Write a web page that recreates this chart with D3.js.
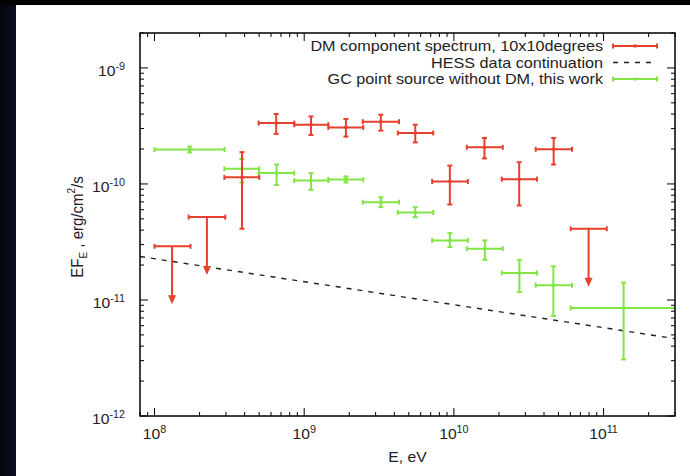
<!DOCTYPE html>
<html><head><meta charset="utf-8">
<script src="https://cdn.jsdelivr.net/npm/d3@7"></script>
<style>
html,body{margin:0;padding:0;background:#000;}
svg{display:block;}
text{font-family:"Liberation Sans",Arial,Helvetica,sans-serif;fill:#222;}
</style></head>
<body>
<svg id="chart" width="690" height="476"></svg>
<script>
// ---- Data ----
// DM component spectrum, 10x10 degrees (measured points)
const dmE    = [3.84e8, 6.5e8, 1.11e9, 1.9e9, 3.25e9, 5.52e9, 9.4e9, 1.6e10, 2.73e10, 4.64e10];
const dmElo  = [2.93e8, 4.96e8, 8.58e8, 1.45e9, 2.46e9, 4.22e9, 7.16e9, 1.22e10, 2.09e10, 3.52e10];
const dmEhi  = [5.01e8, 8.58e8, 1.45e9, 2.48e9, 4.3e9, 7.28e9, 1.24e10, 2.12e10, 3.59e10, 6.15e10];
const dmF    = [1.14e-10, 3.35e-10, 3.24e-10, 3.07e-10, 3.44e-10, 2.75e-10, 1.05e-10, 2.07e-10, 1.1e-10, 1.99e-10];
const dmFlo  = [4.11e-11, 2.7e-10, 2.64e-10, 2.56e-10, 2.88e-10, 2.28e-10, 6.65e-11, 1.66e-10, 6.52e-11, 1.47e-10];
const dmFhi  = [1.88e-10, 4.01e-10, 3.82e-10, 3.63e-10, 3.95e-10, 3.24e-10, 1.44e-10, 2.49e-10, 1.54e-10, 2.49e-10];
// DM component upper limits
const ulE    = [1.31e8, 2.24e8, 7.94e10];
const ulElo  = [1.0e8, 1.69e8, 6.03e10];
const ulEhi  = [1.74e8, 2.97e8, 1.05e11];
const ulF    = [2.9e-11, 5.18e-11, 4.11e-11];
// GC point source without DM, this work
const gcE    = [1.72e8, 3.84e8, 6.54e8, 1.11e9, 1.9e9, 3.25e9, 5.52e9, 9.4e9, 1.61e10, 2.74e10, 4.62e10, 1.36e11];
const gcElo  = [1.0e8, 2.93e8, 4.96e8, 8.58e8, 1.45e9, 2.46e9, 4.22e9, 7.16e9, 1.22e10, 2.09e10, 3.52e10, 6.03e10];
const gcEhi  = [2.94e8, 5.01e8, 8.58e8, 1.45e9, 2.48e9, 4.3e9, 7.28e9, 1.24e10, 2.12e10, 3.59e10, 6.15e10, 3.06e11];
const gcF    = [1.98e-10, 1.35e-10, 1.24e-10, 1.07e-10, 1.09e-10, 6.97e-11, 5.68e-11, 3.26e-11, 2.77e-11, 1.71e-11, 1.34e-11, 8.53e-12];
const gcFlo  = [1.87e-10, 1.03e-10, 9.8e-11, 8.9e-11, 1.03e-10, 6.31e-11, 5.17e-11, 2.86e-11, 2.22e-11, 1.17e-11, 7.28e-12, 3.07e-12];
const gcFhi  = [2.1e-10, 1.64e-10, 1.47e-10, 1.24e-10, 1.16e-10, 7.69e-11, 6.31e-11, 3.77e-11, 3.26e-11, 2.22e-11, 1.95e-11, 1.41e-11];
// HESS data continuation (power law)
const hessE  = [8e7, 3e11];
const hessF  = [2.37e-11, 4.64e-12];
// Axis tick labels
const xTickVals = [1e8, 1e9, 1e10, 1e11];
const xTickExp  = ["8", "9", "10", "11"];
const yTickVals = [1e-12, 1e-11, 1e-10, 1e-9];
const yTickExp  = ["-12", "-11", "-10", "-9"];
const legendLabels = ["DM component spectrum, 10x10degrees", "HESS data continuation", "GC point source without DM, this work"];

// ---- Layout ----
const svg = d3.select("#chart");
const RED = "#e6412c", GREEN = "#82e545";
const L = 140, R = 675, T = 33, B = 416;
const SX = 1.08; // horizontal stretch of the text in the original picture

const defs = svg.append("defs");
const grad = defs.append("linearGradient").attr("id","bg").attr("x1","0").attr("x2","1").attr("y1","0").attr("y2","0");
grad.append("stop").attr("offset","0").attr("stop-color","#05050c");
grad.append("stop").attr("offset","1").attr("stop-color","#0b0f26");
svg.append("rect").attr("width",690).attr("height",476).attr("fill","#030306");
svg.append("rect").attr("x",0).attr("y",5).attr("width",16).attr("height",471).attr("fill","url(#bg)");
svg.append("rect").attr("x",16).attr("y",5).attr("width",674).attr("height",471).attr("fill","#fff");

const x = d3.scaleLog().domain([8e7, 3e11]).range([L, R]);
const y = d3.scaleLog().domain([1e-12, 2e-9]).range([B, T]);

defs.append("clipPath").attr("id","clip").append("rect")
  .attr("x",L).attr("y",T).attr("width",R-L).attr("height",B-T);

// ---- ticks (inward, mirrored) ----
const xMinor = [];
for (let d = 1e7; d < 1e12; d *= 10) for (let k = 2; k <= 9; k++) { const v = d*k; if (v >= 8e7 && v <= 3e11) xMinor.push(v); }
const yMinor = [];
for (let d = 1e-12; d < 1e-8; d *= 10) for (let k = 2; k <= 9; k++) { const v = d*k; if (v > 1e-12 && v <= 2e-9) yMinor.push(v); }

const tk = svg.append("g").attr("stroke","#000").attr("stroke-width",1);
function vt(v, len){ tk.append("line").attr("x1",x(v)).attr("x2",x(v)).attr("y1",B).attr("y2",B-len);
                     tk.append("line").attr("x1",x(v)).attr("x2",x(v)).attr("y1",T).attr("y2",T+len); }
function ht(v, len){ tk.append("line").attr("y1",y(v)).attr("y2",y(v)).attr("x1",L).attr("x2",L+len);
                     tk.append("line").attr("y1",y(v)).attr("y2",y(v)).attr("x1",R).attr("x2",R-len); }
xTickVals.forEach(v => vt(v, 8)); xMinor.forEach(v => vt(v, 4));
yTickVals.forEach(v => ht(v, 8)); yMinor.forEach(v => ht(v, 4));

function stretched(px, py, extra) {
  return svg.append("g").attr("transform", `translate(${px},${py}) scale(${SX},1)` + (extra || ""));
}

// tick labels
xTickVals.forEach((v,i) => {
  const t = stretched(x(v), 439).append("text").attr("text-anchor","middle").attr("font-size",14.5);
  t.append("tspan").text("10");
  t.append("tspan").attr("dy",-6).attr("font-size",10).text(xTickExp[i]);
});
yTickVals.forEach((v,i) => {
  const t = stretched(125, y(v)+8).append("text").attr("text-anchor","end").attr("font-size",14.5);
  t.append("tspan").text("10");
  t.append("tspan").attr("dy",-6).attr("font-size",10).text(yTickExp[i]);
});

// axis titles
stretched((L+R)/2, 462).append("text").attr("text-anchor","middle").attr("font-size",14.5).text("E, eV");
const yl = stretched(83, 227, " rotate(-90)").append("text").attr("text-anchor","middle").attr("font-size",15);
yl.append("tspan").text("EF");
yl.append("tspan").attr("font-size",10).attr("dy",4).text("E");
yl.append("tspan").attr("dy",-4).text(" , erg/cm");
yl.append("tspan").attr("font-size",10).attr("dy",-7).text("2");
yl.append("tspan").attr("dy",7).text("/s");

// ---- data layers ----
const plot = svg.append("g").attr("clip-path","url(#clip)");

plot.append("path")
  .datum(hessE.map((e,i)=>[e,hessF[i]]))
  .attr("d", d3.line().x(d=>x(d[0])).y(d=>y(d[1])))
  .attr("fill","none").attr("stroke","#222").attr("stroke-width",1.4).attr("stroke-dasharray","5,6");

const CAP = 2.5;
function xyErr(g, color, E, Elo, Ehi, F, Flo, Fhi) {
  const gg = g.append("g").attr("stroke", color).attr("stroke-width", 2).attr("fill", color);
  E.forEach((e,i) => {
    const cx = x(e), cy = y(F[i]);
    gg.append("line").attr("x1",x(Elo[i])).attr("x2",x(Ehi[i])).attr("y1",cy).attr("y2",cy);
    gg.append("line").attr("x1",cx).attr("x2",cx).attr("y1",y(Flo[i])).attr("y2",y(Fhi[i]));
    [Elo[i],Ehi[i]].forEach(v => gg.append("line").attr("x1",x(v)).attr("x2",x(v)).attr("y1",cy-CAP).attr("y2",cy+CAP));
    [Flo[i],Fhi[i]].forEach(v => gg.append("line").attr("y1",y(v)).attr("y2",y(v)).attr("x1",cx-CAP).attr("x2",cx+CAP));
    gg.append("rect").attr("x",cx-1.5).attr("y",cy-1.5).attr("width",3).attr("height",3).attr("stroke","none");
  });
}
xyErr(plot, GREEN, gcE, gcElo, gcEhi, gcF, gcFlo, gcFhi);
xyErr(plot, RED, dmE, dmElo, dmEhi, dmF, dmFlo, dmFhi);

const ul = plot.append("g").attr("stroke", RED).attr("stroke-width", 2).attr("fill", RED);
ulE.forEach((e,i) => {
  const cx = x(e), cy = y(ulF[i]), tip = y(ulF[i]*Math.pow(10,-0.5));
  ul.append("line").attr("x1",x(ulElo[i])).attr("x2",x(ulEhi[i])).attr("y1",cy).attr("y2",cy);
  [ulElo[i],ulEhi[i]].forEach(v => ul.append("line").attr("x1",x(v)).attr("x2",x(v)).attr("y1",cy-CAP).attr("y2",cy+CAP));
  ul.append("line").attr("x1",cx).attr("x2",cx).attr("y1",cy).attr("y2",tip-8);
  ul.append("path").attr("d",`M${cx-4},${tip-9}L${cx+4},${tip-9}L${cx},${tip}Z`).attr("stroke","none");
});

svg.append("rect").attr("x",L).attr("y",T).attr("width",R-L).attr("height",B-T)
  .attr("fill","none").attr("stroke","#000").attr("stroke-width",1.5);

// ---- legend ----
const legY = [46, 62.5, 79];
const lg = svg.append("g");
legendLabels.forEach((s,i) => {
  stretched(603, legY[i]+5).append("text").attr("text-anchor","end").attr("font-size",15).text(s);
});
function legErr(yy, color){
  const g = lg.append("g").attr("stroke",color).attr("stroke-width",2).attr("fill",color);
  g.append("line").attr("x1",613).attr("x2",657).attr("y1",yy).attr("y2",yy);
  [613,657].forEach(v => g.append("line").attr("x1",v).attr("x2",v).attr("y1",yy-CAP).attr("y2",yy+CAP));
  g.append("rect").attr("x",633.5).attr("y",yy-1.5).attr("width",3).attr("height",3).attr("stroke","none");
}
legErr(legY[0], RED);
lg.append("line").attr("x1",613).attr("x2",657).attr("y1",legY[1]).attr("y2",legY[1])
  .attr("stroke","#222").attr("stroke-width",1.4).attr("stroke-dasharray","5,6");
legErr(legY[2], GREEN);
</script>
</body></html>
